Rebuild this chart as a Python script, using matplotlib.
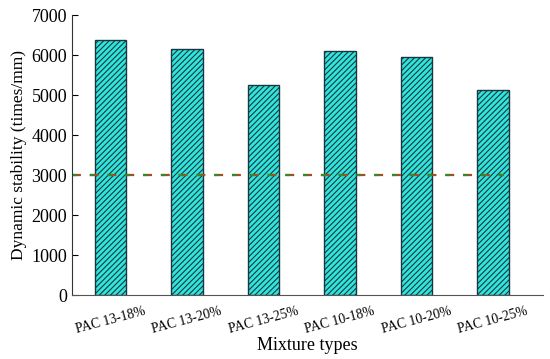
import matplotlib
matplotlib.use("Agg")
import matplotlib.pyplot as plt

categories = ["PAC 13-18%", "PAC 13-20%", "PAC 13-25%", "PAC 10-18%", "PAC 10-20%", "PAC 10-25%"]
values = [6380, 6150, 5240, 6110, 5960, 5120]
threshold = 3000
yticks = [0, 1000, 2000, 3000, 4000, 5000, 6000, 7000]

plt.rcParams['font.family'] = ['Liberation Serif', 'DejaVu Serif']
plt.rcParams['hatch.color'] = '#1c3550'
plt.rcParams['hatch.linewidth'] = 0.8

fig = plt.figure(figsize=(5.5, 3.59), dpi=100)
ax = fig.add_axes([0.131, 0.178, 0.857, 0.780])
x = list(range(len(categories)))
ax.bar(x, values, width=0.41, color='#2ee6dc', edgecolor='#1c3540', linewidth=1.0, hatch='//////')
ax.plot([-0.5, 5.15], [threshold, threshold], color='#a0501e', lw=1.6, dashes=(4, 4))
ax.plot([-0.5, 5.15], [threshold, threshold], color='#2e8b2e', lw=1.6, dashes=(2, 6), dash_capstyle='butt')

ax.set_xlim(-0.5, 5.66)
ax.set_ylim(0, 7000)
ax.set_yticks(yticks)
ax.set_xticks(x)
ax.set_xticklabels(categories, rotation=15, fontsize=9.8)
ax.tick_params(axis='y', direction='in', length=4, labelsize=13)
ax.tick_params(axis='x', length=0, pad=7)
for s in ['top', 'right']:
    ax.spines[s].set_visible(False)
ax.spines['left'].set_color('#333333')
ax.spines['bottom'].set_color('#555555')
ax.set_ylabel("Dynamic stability (times/mm)", fontsize=12.5, labelpad=3)
ax.set_xlabel("Mixture types", fontsize=13, labelpad=1)
fig.savefig("out.png", dpi=100)
